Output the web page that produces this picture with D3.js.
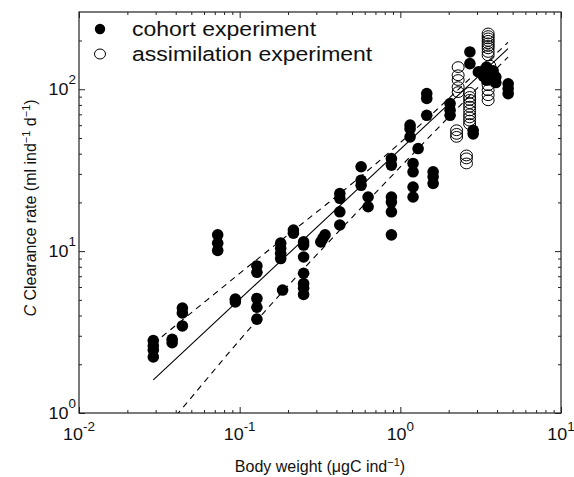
<!DOCTYPE html>
<html><head><meta charset="utf-8">
<script src="https://cdn.jsdelivr.net/npm/d3@7"></script>
<style>body{margin:0;background:#fff}svg{display:block;font-family:"Liberation Sans",Arial,Helvetica,sans-serif}</style>
</head><body><svg id="c" width="574" height="477"></svg>
<script>
// ---- data ----
const cohortX = [
 0.029,0.029,0.029,0.029, 0.038,0.038, 0.044,0.044,0.044, 0.073,0.073,0.073, 0.094,0.094,
 0.128,0.128,0.128,0.128,0.128, 0.18,0.18,0.18,0.18, 0.185, 0.216,0.216,
 0.25,0.25,0.25,0.25,0.25,0.25,0.25, 0.32,0.33,0.34, 0.42,0.42,0.42,0.42,
 0.57,0.57,0.57, 0.63,0.63, 0.88,0.88,0.88,0.88,0.88,0.88,
 1.15,1.15,1.15, 1.2,1.2,1.2,1.2, 1.29, 1.46,1.46,1.46, 1.6,1.6,1.6,
 2.04,2.04,2.04, 2.71,2.71, 2.84,2.84, 3.06, 3.3,3.3, 3.44,3.44, 3.78,3.78, 3.93,3.93,
 4.69,4.69,4.69];
const cohortY = [
 2.8,2.6,2.45,2.22, 2.85,2.72, 4.45,4.15,3.45, 12.6,11.2,10.1, 5.05,4.85,
 8.1,7.4,5.1,4.5,3.8, 11.2,10.4,9.7,9.0, 5.75, 13.5,12.9,
 11.4,10.9,9.2,7.3,6.3,5.9,5.4, 11.4,12.0,12.6, 22.7,21.2,17.5,14.5,
 33.2,27.4,25.5, 21.6,18.8, 37.3,34,21.6,20.1,17.5,12.6,
 60,57,50.8, 34.8,30.9,24.9,21.6, 43, 94,87.7,69, 30.9,28.8,26.2,
 81.6,74.2,69, 170,144, 55.8,53, 128, 120,125, 137,114, 122,130, 119,110,
 108,101,94];
const assimX = [
 2.24,2.24,2.24, 2.29,2.29,2.29,2.29,2.29, 2.58,2.58,2.58,
 2.7,2.7,2.7,2.7,2.7,2.7,2.7,2.7,2.7,2.7,
 3.52,3.52,3.52,3.52,3.52,3.52,3.52,3.52,3.52, 3.52,3.52,3.52,3.52, 3.3,3.6];
const assimY = [
 55.8,53,50.8, 137,122,114,103,96, 39,37.4,34.8,
 95,89.6,86,82,78,74,70,67,64,61,
 221,213,206,199,192,185,179,170,162, 106,98.6,91.8,85.5, 130,140];
// fitted line and dashed bounds (x, y points)
const fitX = [0.029, 4.68];
const fitY = [1.6, 178];
const upperX = [0.0328, 0.1, 1, 4.68];
const upperY = [2.96, 7.28, 46.8, 195];
const lowerX = [0.0328, 0.0415, 0.1, 1, 4.68];
const lowerY = [0.76, 1.0, 2.82, 33.1, 158];
// ticks
const xMajor = [0.01, 0.1, 1, 10];
const xExp = ["-2", "-1", "0", "1"];
const yMajor = [1, 10, 100];
const yExp = ["0", "1", "2"];
const legendLabels = ["cohort experiment", "assimilation experiment"];

// ---- drawing ----
const svg = d3.select("#c");
const L = 79, R = 561, T = 12, B = 413;
const x = d3.scaleLog().domain([0.01, 10]).range([L, R]);
const y = d3.scaleLog().domain([1, 300]).range([B, T]);

const minorOf = (majors, lo, hi) => {
  const out = [];
  majors.forEach(m => { for (let k = 2; k <= 9; k++) { const v = m * k; if (v > lo && v < hi) out.push(v); } });
  return out;
};
const xMinor = minorOf(xMajor, 0.01, 10);
const yMinor = minorOf(yMajor, 1, 300);

const axCol = "#222";
const g = svg.append("g");
function drawAxis(axisGen, tr, vals, size) {
  const a = g.append("g").attr("transform", tr)
    .call(axisGen.tickValues(vals).tickSizeInner(-size).tickSizeOuter(0).tickFormat(""));
  a.select(".domain").remove();
  a.selectAll("line").attr("stroke", axCol).attr("stroke-width", 1);
}
drawAxis(d3.axisBottom(x), `translate(0,${B})`, xMajor, 6);
drawAxis(d3.axisBottom(x), `translate(0,${B})`, xMinor, 3);
drawAxis(d3.axisTop(x), `translate(0,${T})`, xMajor, 6);
drawAxis(d3.axisTop(x), `translate(0,${T})`, xMinor, 3);
drawAxis(d3.axisLeft(y), `translate(${L},0)`, yMajor, 6);
drawAxis(d3.axisLeft(y), `translate(${L},0)`, yMinor, 3);
drawAxis(d3.axisRight(y), `translate(${R},0)`, yMajor, 6);
drawAxis(d3.axisRight(y), `translate(${R},0)`, yMinor, 3);

g.append("rect").attr("x", L).attr("y", T).attr("width", R - L).attr("height", B - T)
  .attr("fill", "none").attr("stroke", axCol).attr("stroke-width", 1.2);

// stretched text helper (reference glyphs are slightly wide)
function stext(px, py, sx, anchor, size) {
  return svg.append("g").attr("transform", `translate(${px},${py}) scale(${sx},1)`)
    .append("text").attr("x", 0).attr("y", 0).attr("font-size", size)
    .attr("text-anchor", anchor).attr("fill", "#111");
}

// tick labels
xMajor.forEach((v, i) => {
  const t = stext(x(v), 440, 1.12, "middle", 16);
  t.append("tspan").text("10");
  t.append("tspan").attr("dy", -9).attr("font-size", 12).text(xExp[i]);
});
yMajor.forEach((v, i) => {
  const t = stext(76, y(v) + 6, 1.12, "end", 16);
  t.append("tspan").text("10");
  t.append("tspan").attr("dy", -11).attr("font-size", 12).text(yExp[i]);
});

// axis titles
const xt = svg.append("text").attr("x", 320).attr("y", 472).attr("font-size", 16)
  .attr("text-anchor", "middle").attr("fill", "#111");
xt.append("tspan").text("Body weight (\u03bcgC ind");
xt.append("tspan").attr("dy", -6).attr("font-size", 11).text("\u22121");
xt.append("tspan").attr("dy", 6).text(")");

const yt = svg.append("text").attr("transform", "translate(36,208) rotate(-90)")
  .attr("font-size", 16).attr("text-anchor", "middle").attr("fill", "#111");
yt.append("tspan").attr("font-style", "italic").text("C");
yt.append("tspan").text(" Clearance rate (ml ind");
yt.append("tspan").attr("dy", -6).attr("font-size", 11).text("\u22121");
yt.append("tspan").attr("dy", 6).text(" d");
yt.append("tspan").attr("dy", -6).attr("font-size", 11).text("\u22121");
yt.append("tspan").attr("dy", 6).text(")");

// clip
svg.append("clipPath").attr("id", "pc").append("rect")
  .attr("x", L).attr("y", T).attr("width", R - L).attr("height", B - T);
const plot = svg.append("g").attr("clip-path", "url(#pc)");

// lines
const line = d3.line().x(d => x(d[0])).y(d => y(d[1]));
const curve = d3.line().x(d => x(d[0])).y(d => y(d[1])).curve(d3.curveMonotoneX);
plot.append("path").attr("d", line(d3.zip(fitX, fitY))).attr("fill", "none")
  .attr("stroke", "#000").attr("stroke-width", 1.1);
[[upperX, upperY], [lowerX, lowerY]].forEach(([xs, ys]) => {
  plot.append("path").attr("d", curve(d3.zip(xs, ys))).attr("fill", "none")
    .attr("stroke", "#000").attr("stroke-width", 1.1).attr("stroke-dasharray", "6,5");
});

// points
plot.selectAll("ellipse.a").data(d3.zip(assimX, assimY)).join("ellipse")
  .attr("cx", d => x(d[0])).attr("cy", d => y(d[1])).attr("rx", 6).attr("ry", 5.4)
  .attr("fill", "none").attr("stroke", "#000").attr("stroke-width", 1);
plot.selectAll("circle.c").data(d3.zip(cohortX, cohortY)).join("circle")
  .attr("cx", d => x(d[0])).attr("cy", d => y(d[1])).attr("r", 5.8)
  .attr("fill", "#000");

// legend
const lg = svg.append("g");
lg.append("circle").attr("cx", 100).attr("cy", 29).attr("r", 5.2).attr("fill", "#000");
lg.append("ellipse").attr("cx", 100).attr("cy", 54).attr("rx", 5.5).attr("ry", 5)
  .attr("fill", "none").attr("stroke", "#000").attr("stroke-width", 1);
legendLabels.forEach((s, i) => {
  stext(132, 36 + i * 25, 1.18, "start", 19.5).text(s);
});
</script></body></html>
